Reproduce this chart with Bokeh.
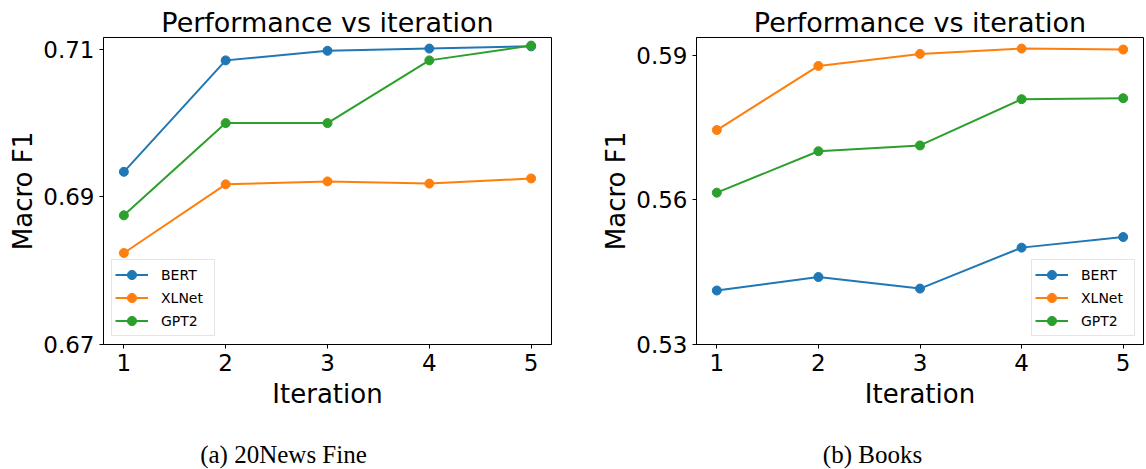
from bokeh.plotting import figure
from bokeh.models import Range1d, FixedTicker, PrintfTickFormatter, Legend
from bokeh.core.properties import value
from bokeh.layouts import row, column
from bokeh.embed import file_html
from bokeh.resources import INLINE

iterations = [1, 2, 3, 4, 5]
models = ["BERT", "XLNet", "GPT2"]
colors = ["#1f77b4", "#ff7f0e", "#2ca02c"]

news_bert = [0.6934, 0.7085, 0.7098, 0.7101, 0.7104]
news_xlnet = [0.6824, 0.6917, 0.6921, 0.6918, 0.6925]
news_gpt2 = [0.6875, 0.7000, 0.7000, 0.7085, 0.7105]

books_bert = [0.5412, 0.5440, 0.5416, 0.5501, 0.5523]
books_xlnet = [0.5745, 0.5878, 0.5903, 0.5914, 0.5912]
books_gpt2 = [0.5615, 0.5701, 0.5713, 0.5809, 0.5811]

news_yticks = [0.67, 0.69, 0.71]
books_yticks = [0.53, 0.56, 0.59]

captions = ["(a) 20News Fine", "(b) Books"]

FONT = "DejaVu Sans"
SERIF = "Liberation Serif"
PANEL_W = 573
MAIN_H = 416
CAP_H = 53


def make_panel(series, yrange, yticks, bl, br, legend_loc):
    p = figure(width=PANEL_W, height=MAIN_H, output_backend="svg", toolbar_location=None,
               x_range=Range1d(0.8, 5.2), y_range=Range1d(*yrange),
               min_border_left=bl, min_border_right=br, min_border_top=37,
               min_border_bottom=72)
    p.title.text = "Performance vs iteration"
    p.title.text_font = FONT
    p.title.text_font_size = "27px"
    p.title.text_font_style = "normal"
    p.title.text_color = "black"
    p.title.align = "center"
    p.title.standoff = 0
    p.grid.visible = False
    p.outline_line_color = "black"
    p.outline_line_width = 1
    p.background_fill_color = "white"
    p.border_fill_color = "white"

    for ax in (p.xaxis[0], p.yaxis[0]):
        ax.axis_line_color = "black"
        ax.major_tick_line_color = "black"
        ax.minor_tick_line_color = None
        ax.major_tick_out = 4
        ax.major_tick_in = 0
        ax.major_label_text_font = FONT
        ax.major_label_text_font_size = "23px"
        ax.major_label_text_color = "black"
        ax.axis_label_text_font = FONT
        ax.axis_label_text_font_size = "26px"
        ax.axis_label_text_font_style = "normal"
        ax.axis_label_text_color = "black"
    p.xaxis.ticker = FixedTicker(ticks=iterations)
    p.yaxis.ticker = FixedTicker(ticks=yticks)
    p.yaxis.formatter = PrintfTickFormatter(format="%.2f")
    p.xaxis.axis_label = "Iteration"
    p.yaxis.axis_label = "Macro F1"
    p.xaxis.major_label_standoff = 5
    p.xaxis.axis_label_standoff = 5
    p.yaxis.major_label_standoff = 5
    p.yaxis.axis_label_standoff = 2

    items = []
    for name, col, vals in zip(models, colors, series):
        r1 = p.line(iterations, vals, line_color=col, line_width=2)
        r2 = p.scatter(iterations, vals, size=9, fill_color=col, line_color=col)
        items.append((name, [r1, r2]))
    leg = Legend(items=items, location=legend_loc)
    leg.label_text_font = FONT
    leg.label_text_font_size = "14px"
    leg.label_text_color = "black"
    leg.glyph_width = 33
    leg.glyph_height = 23
    leg.label_height = 23
    leg.label_width = 50
    leg.label_standoff = 13
    leg.spacing = 0
    leg.padding = 3
    leg.margin = 8
    leg.border_line_color = "#cccccc"
    leg.border_line_width = 1
    leg.background_fill_alpha = 0.85
    p.add_layout(leg)
    return p


def make_caption(text, cx):
    c = figure(width=PANEL_W, height=CAP_H, output_backend="svg", toolbar_location=None,
               x_range=Range1d(0, PANEL_W), y_range=Range1d(0, CAP_H),
               x_axis_type=None, y_axis_type=None, min_border=0)
    c.grid.visible = False
    c.outline_line_color = None
    c.text(x=[cx], y=[CAP_H - 38], text=[text], text_font=value(SERIF),
           text_font_size="25px", text_color="black", text_align="center",
           text_baseline="alphabetic")
    return c


p1 = make_panel([news_bert, news_xlnet, news_gpt2], (0.67, 0.7116), news_yticks,
                103, 22, "bottom_left")
p2 = make_panel([books_bert, books_xlnet, books_gpt2], (0.53, 0.5937), books_yticks,
                123, 3, "bottom_right")
c1 = make_caption(captions[0], 283)
c2 = make_caption(captions[1], 872 - PANEL_W)

layout = column(row(p1, p2), row(c1, c2))
open("out.html", "w").write(file_html(layout, INLINE))
